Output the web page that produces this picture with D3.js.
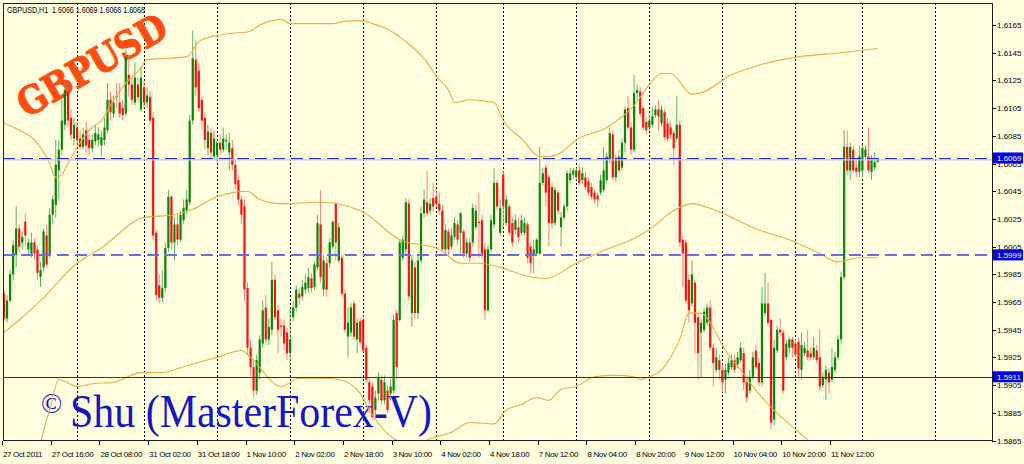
<!DOCTYPE html>
<html><head><meta charset="utf-8">
<script src="https://cdn.jsdelivr.net/npm/d3@7"></script>
<style>html,body{margin:0;padding:0;background:#FFFFE0;}svg{display:block}</style>
</head><body>
<svg id="c" width="1024" height="464"></svg>
<script>
// ---------------- DATA (GBPUSD H1, 27 Oct 2011 00:00 .. 14 Nov 2011 05:00) ----------------
const openP = [
// 27 Oct
1.5971,1.5953,1.5966,1.5985,1.5999,1.6018,1.6008,1.6023,1.6003,1.6000,1.6008,1.6003,1.5983,1.5990,1.6013,1.5999,1.6028,1.6035,1.6060,1.6075,1.6093,1.6117,1.6098,1.6083,
// 28 Oct
1.6091,1.6083,1.6077,1.6089,1.6082,1.6076,1.6081,1.6082,1.6078,1.6082,1.6089,1.6111,1.6101,1.6114,1.6109,1.6105,1.6101,1.6129,1.6122,1.6109,1.6122,1.6104,
// 31 Oct
1.6120,1.6109,1.6113,1.6098,1.6015,1.5977,1.5968,1.5975,1.6004,1.6041,1.6008,1.6021,1.6010,1.6024,1.6031,1.6037,1.6096,1.6140,1.6132,1.6111,1.6098,1.6076,1.6087,1.6070,
// 1 Nov
1.6071,1.6080,1.6075,1.6081,1.6073,1.6076,1.6064,1.6053,1.6039,1.6034,1.5975,1.5932,1.5918,1.5901,1.5914,1.5935,1.5961,1.5938,1.5945,1.5981,1.5959,1.5948,1.5948,1.5943,
// 2 Nov
1.5928,1.5954,1.5961,1.5971,1.5969,1.5974,1.5975,1.5982,1.5976,1.5990,1.6021,1.5974,1.5993,1.5993,1.6005,1.6036,1.5995,1.5997,1.5971,1.5940,1.5943,1.5964,1.5938,1.5951,
// 3 Nov
1.5952,1.5932,1.5907,1.5904,1.5887,1.5899,1.5909,1.5894,1.5901,1.5899,1.5901,1.5957,1.5952,1.5997,1.6003,1.6036,1.5957,1.5990,1.5957,1.5995,1.6029,1.6037,1.6031,1.6040,
// 4 Nov
1.6041,1.6036,1.6031,1.6003,1.6016,1.6005,1.6012,1.6021,1.6015,1.6016,1.6000,1.6008,1.6008,1.6019,1.6023,1.6024,1.6003,1.5959,1.6003,1.6021,1.6051,1.6015,
// 7 Nov
1.6057,1.6022,1.6034,1.6022,1.6017,1.6019,1.6015,1.6015,1.6021,1.6005,1.5999,1.6000,1.6000,1.6051,1.6062,1.6055,1.6048,1.6022,1.6044,1.6019,1.6026,1.6034,1.6053,1.6057,
// 8 Nov
1.6055,1.6060,1.6053,1.6055,1.6052,1.6048,1.6044,1.6042,1.6044,1.6046,1.6053,1.6068,1.6086,1.6055,1.6070,1.6062,1.6080,1.6105,1.6091,1.6075,1.6116,1.6117,1.6105,1.6095,
// 9 Nov
1.6091,1.6093,1.6100,1.6104,1.6094,1.6102,1.6094,1.6091,1.6087,1.6083,1.6093,1.6010,1.6008,1.5981,1.5964,1.5979,1.5954,1.5943,1.5945,1.5950,1.5961,1.5932,1.5916,1.5923,
// 10 Nov
1.5916,1.5909,1.5914,1.5918,1.5923,1.5920,1.5923,1.5928,1.5907,1.5901,1.5911,1.5930,1.5921,1.5907,1.5957,1.5964,1.5952,1.5880,1.5930,1.5945,1.5943,1.5925,1.5932,1.5938,
// 11 Nov
1.5935,1.5936,1.5916,1.5928,1.5930,1.5928,1.5925,1.5930,1.5925,1.5905,1.5909,1.5914,1.5909,1.5916,1.5925,1.5938,1.5983,1.6077,1.6060,1.6075,1.6062,1.6059,
// 14 Nov
1.6060,1.6070,1.6070,1.6059,1.6062,1.6066];
const highP = [
1.5974,1.5970,1.5988,1.6010,1.6034,1.6021,1.6016,1.6029,1.6011,1.6015,1.6011,1.6006,1.5994,1.6018,1.6021,1.6033,1.6042,1.6082,1.6082,1.6111,1.6123,1.6120,1.6104,1.6098,
1.6095,1.6089,1.6091,1.6095,1.6086,1.6086,1.6093,1.6091,1.6089,1.6098,1.6123,1.6117,1.6114,1.6123,1.6123,1.6111,1.6147,1.6143,1.6127,1.6138,1.6127,1.6135,
1.6125,1.6120,1.6117,1.6102,1.6017,1.5985,1.5988,1.6008,1.6046,1.6042,1.6026,1.6028,1.6031,1.6039,1.6046,1.6100,1.6161,1.6154,1.6138,1.6114,1.6102,1.6093,1.6091,1.6089,
1.6083,1.6086,1.6091,1.6086,1.6087,1.6082,1.6068,1.6057,1.6042,1.6039,1.5979,1.5938,1.5923,1.5927,1.5941,1.5966,1.5970,1.5953,1.5994,1.5985,1.5963,1.5953,1.5952,1.5946,
1.5961,1.5966,1.5977,1.5975,1.5981,1.5985,1.5990,1.5986,1.5994,1.6028,1.6046,1.5999,1.5997,1.6011,1.6024,1.6037,1.6022,1.5999,1.5974,1.5961,1.5964,1.5966,1.5953,1.5954,
1.5956,1.5934,1.5910,1.5907,1.5901,1.5914,1.5912,1.5912,1.5905,1.5909,1.5956,1.5959,1.6010,1.6013,1.6040,1.6039,1.5999,1.5994,1.5999,1.6034,1.6046,1.6060,1.6040,1.6051,
1.6046,1.6044,1.6035,1.6021,1.6018,1.6018,1.6026,1.6024,1.6030,1.6018,1.6011,1.6011,1.6036,1.6035,1.6044,1.6028,1.6008,1.6006,1.6028,1.6062,1.6053,1.6039,
1.6060,1.6042,1.6036,1.6026,1.6028,1.6026,1.6028,1.6026,1.6023,1.6008,1.6010,1.6011,1.6077,1.6062,1.6064,1.6057,1.6051,1.6048,1.6046,1.6030,1.6036,1.6060,1.6062,1.6062,
1.6062,1.6064,1.6062,1.6059,1.6055,1.6051,1.6046,1.6044,1.6057,1.6077,1.6073,1.6091,1.6089,1.6071,1.6075,1.6083,1.6106,1.6114,1.6095,1.6129,1.6122,1.6120,1.6107,1.6098,
1.6100,1.6106,1.6107,1.6111,1.6107,1.6104,1.6098,1.6095,1.6089,1.6114,1.6096,1.6013,1.6010,1.5985,1.5995,1.5981,1.5957,1.5953,1.5961,1.5964,1.5966,1.5935,1.5932,1.5927,
1.5920,1.5920,1.5925,1.5927,1.5927,1.5929,1.5936,1.5932,1.5910,1.5916,1.5929,1.5934,1.5925,1.5976,1.5986,1.5979,1.5953,1.5938,1.5948,1.5953,1.5945,1.5938,1.5940,1.5940,
1.5938,1.5939,1.5943,1.5936,1.5945,1.5932,1.5940,1.5934,1.5945,1.5914,1.5919,1.5917,1.5932,1.5929,1.5941,1.5987,1.6089,1.6089,1.6080,1.6078,1.6068,1.6078,
1.6078,1.6078,1.6091,1.6071,1.6073,1.6069];
const lowP = [
1.5951,1.5950,1.5965,1.5981,1.5990,1.6001,1.6003,1.6005,1.5998,1.5997,1.5995,1.5981,1.5976,1.5987,1.5990,1.5997,1.6021,1.6026,1.6039,1.6071,1.6089,1.6091,1.6082,1.6078,
1.6078,1.6075,1.6075,1.6073,1.6071,1.6073,1.6078,1.6077,1.6070,1.6078,1.6087,1.6096,1.6098,1.6105,1.6098,1.6096,1.6099,1.6113,1.6107,1.6107,1.6109,1.6102,
1.6105,1.6105,1.6093,1.6010,1.5966,1.5964,1.5965,1.5972,1.6001,1.6003,1.5995,1.6006,1.6008,1.6021,1.6028,1.6035,1.6093,1.6114,1.6102,1.6089,1.6075,1.6071,1.6069,1.6068,
1.6066,1.6071,1.6073,1.6075,1.6060,1.6060,1.6046,1.6035,1.6021,1.5966,1.5927,1.5912,1.5896,1.5898,1.5909,1.5932,1.5934,1.5934,1.5941,1.5952,1.5928,1.5940,1.5930,1.5923,
1.5914,1.5951,1.5958,1.5963,1.5966,1.5971,1.5972,1.5972,1.5974,1.5988,1.5979,1.5969,1.5969,1.5990,1.6003,1.5995,1.5993,1.5969,1.5943,1.5925,1.5940,1.5938,1.5928,1.5934,
1.5929,1.5907,1.5885,1.5880,1.5881,1.5894,1.5891,1.5891,1.5885,1.5894,1.5899,1.5909,1.5951,1.5995,1.5999,1.5966,1.5947,1.5953,1.5953,1.5993,1.6026,1.6027,1.6028,1.6030,
1.6034,1.6028,1.6001,1.5999,1.5999,1.6003,1.6010,1.6006,1.6000,1.5997,1.5997,1.5994,1.6005,1.6017,1.5997,1.5997,1.5952,1.5958,1.6001,1.6018,1.6031,1.6013,
1.6019,1.6020,1.6013,1.6005,1.6014,1.6008,1.6013,1.6013,1.5993,1.5986,1.5986,1.5998,1.5999,1.6049,1.6034,1.6005,1.6018,1.6020,1.6028,1.6005,1.6024,1.6031,1.6051,1.6054,
1.6053,1.6049,1.6050,1.6046,1.6042,1.6039,1.6036,1.6034,1.6042,1.6044,1.6051,1.6065,1.6053,1.6052,1.6058,1.6060,1.6073,1.6089,1.6071,1.6073,1.6111,1.6099,1.6089,1.6086,
1.6089,1.6091,1.6098,1.6089,1.6092,1.6082,1.6081,1.6083,1.6064,1.6080,1.6005,1.5976,1.5964,1.5950,1.5962,1.5928,1.5909,1.5911,1.5943,1.5948,1.5930,1.5904,1.5914,1.5909,
1.5900,1.5899,1.5912,1.5916,1.5914,1.5917,1.5921,1.5901,1.5892,1.5899,1.5909,1.5916,1.5904,1.5904,1.5955,1.5948,1.5873,1.5876,1.5928,1.5940,1.5899,1.5923,1.5928,1.5925,
1.5925,1.5911,1.5909,1.5926,1.5923,1.5923,1.5923,1.5921,1.5901,1.5903,1.5894,1.5899,1.5907,1.5914,1.5923,1.5935,1.5981,1.6057,1.6053,1.6058,1.6055,1.6055,
1.6055,1.6068,1.6058,1.6053,1.6060,1.6066];
const closeP = [
1.5953,1.5966,1.5985,1.6006,1.6018,1.6005,1.6012,1.6013,1.6008,1.6008,1.6000,1.5986,1.5988,1.6016,1.5992,1.6028,1.6039,1.6064,1.6075,1.6096,1.6118,1.6096,1.6086,1.6093,
1.6082,1.6077,1.6086,1.6078,1.6076,1.6082,1.6087,1.6086,1.6084,1.6091,1.6111,1.6102,1.6109,1.6113,1.6101,1.6100,1.6142,1.6122,1.6111,1.6127,1.6113,1.6127,
1.6109,1.6114,1.6096,1.6013,1.5970,1.5968,1.5975,1.6004,1.6041,1.6008,1.6021,1.6010,1.6028,1.6033,1.6039,1.6096,1.6141,1.6120,1.6105,1.6096,1.6082,1.6088,1.6073,1.6083,
1.6080,1.6075,1.6083,1.6082,1.6080,1.6064,1.6050,1.6039,1.6028,1.5974,1.5932,1.5918,1.5901,1.5923,1.5938,1.5959,1.5938,1.5947,1.5981,1.5954,1.5945,1.5947,1.5935,1.5928,
1.5938,1.5961,1.5974,1.5968,1.5976,1.5979,1.5983,1.5975,1.5992,1.6022,1.5983,1.5995,1.5974,1.6008,1.6023,1.6008,1.6019,1.5971,1.5945,1.5950,1.5961,1.5940,1.5950,1.5936,
1.5930,1.5909,1.5894,1.5882,1.5896,1.5911,1.5894,1.5907,1.5887,1.5904,1.5952,1.5918,1.6008,1.6010,1.6037,1.5969,1.5995,1.5957,1.5995,1.6029,1.6039,1.6029,1.6036,1.6034,
1.6036,1.6031,1.6003,1.6017,1.6003,1.6013,1.6022,1.6010,1.6029,1.6000,1.6008,1.5997,1.6033,1.6031,1.6022,1.6000,1.5959,1.6003,1.6024,1.6051,1.6034,1.6033,
1.6034,1.6039,1.6015,1.6008,1.6024,1.6012,1.6024,1.6022,1.5997,1.5993,1.6003,1.6010,1.6051,1.6058,1.6044,1.6022,1.6022,1.6046,1.6031,1.6026,1.6034,1.6058,1.6058,1.6060,
1.6060,1.6051,1.6058,1.6048,1.6044,1.6041,1.6039,1.6039,1.6053,1.6060,1.6070,1.6087,1.6055,1.6068,1.6060,1.6080,1.6104,1.6091,1.6075,1.6116,1.6118,1.6101,1.6091,1.6089,
1.6096,1.6099,1.6104,1.6099,1.6104,1.6084,1.6083,1.6086,1.6076,1.6093,1.6008,1.6000,1.5966,1.5959,1.5985,1.5950,1.5928,1.5950,1.5958,1.5961,1.5932,1.5921,1.5925,1.5916,
1.5907,1.5916,1.5921,1.5923,1.5916,1.5925,1.5932,1.5907,1.5896,1.5911,1.5925,1.5918,1.5907,1.5964,1.5964,1.5950,1.5878,1.5932,1.5945,1.5943,1.5901,1.5935,1.5938,1.5932,
1.5927,1.5917,1.5934,1.5932,1.5925,1.5925,1.5932,1.5923,1.5904,1.5911,1.5916,1.5907,1.5918,1.5925,1.5938,1.5983,1.6077,1.6060,1.6077,1.6060,1.6059,1.6070,
1.6076,1.6075,1.6060,1.6068,1.6066,1.6068];

// Bollinger bands: [bar index] and value
const upperIdx = [0,5,10,15,17,19,21,25,29,32,35,40,45,47,54,60,64,69,75,80,85,91,94,101,108,113,118,121,126,132,139,142,146,148,153,161,164,170,176,179,183,188,198,207,212,216,219,226,229,239,248,261,275,287];
const upperVal = [1.6094,1.6089,1.6082,1.6065,1.6055,1.6057,1.6065,1.6080,1.6091,1.6096,1.6107,1.6123,1.6134,1.6140,1.6141,1.6142,1.6153,1.6157,1.6159,1.6160,1.6166,1.6169,1.6166,1.6166,1.6166,1.6168,1.6168,1.6166,1.6162,1.6153,1.6138,1.6128,1.6118,1.6109,1.6111,1.6109,1.6096,1.6083,1.6070,1.6070,1.6073,1.6082,1.6091,1.6107,1.6122,1.6130,1.6130,1.6115,1.6116,1.6129,1.6136,1.6142,1.6145,1.6148];
const middleIdx = [0,5,12,24,32,46,56,61,70,75,80,84,91,104,117,130,143,150,156,163,173,178,188,198,208,213,220,226,235,248,258,268,274,281,287];
const middleVal = [1.5943,1.5952,1.5966,1.5993,1.6004,1.6026,1.6028,1.6031,1.6041,1.6044,1.6045,1.6039,1.6036,1.6037,1.6031,1.6010,1.6003,1.5993,1.5993,1.5990,1.5983,1.5982,1.5993,1.6003,1.6012,1.6019,1.6031,1.6036,1.6030,1.6017,1.6010,1.6000,1.5994,1.5997,1.5997];
const lowerIdx = [0,11,12,15,18,24,29,36,45,52,60,70,78,81,91,97,104,110,117,120,126,134,141,147,153,161,165,170,175,179,183,188,194,201,207,209,212,216,219,222,225,229,232,237,242,245,252,259,267,278,287];
const lowerVal = [1.5792,1.5848,1.5862,1.5887,1.5909,1.5904,1.5906,1.5907,1.5914,1.5914,1.5919,1.5925,1.5930,1.5925,1.5904,1.5910,1.5910,1.5909,1.5899,1.5887,1.5870,1.5862,1.5867,1.5871,1.5878,1.5877,1.5887,1.5891,1.5896,1.5894,1.5902,1.5904,1.5911,1.5912,1.5911,1.5909,1.5911,1.5916,1.5925,1.5938,1.5957,1.5957,1.5950,1.5930,1.5916,1.5907,1.5889,1.5875,1.5860,1.5836,1.5822];

const priceTicks = [1.6165,1.6145,1.6125,1.6105,1.6085,1.6065,1.6045,1.6025,1.6005,1.5985,1.5965,1.5945,1.5925,1.5905,1.5885,1.5865];
const timeLabels = ["27 Oct 2011","27 Oct 16:00","28 Oct 08:00","31 Oct 02:00","31 Oct 18:00","1 Nov 10:00","2 Nov 02:00","2 Nov 18:00","3 Nov 10:00","4 Nov 02:00","4 Nov 18:00","7 Nov 12:00","8 Nov 04:00","8 Nov 20:00","9 Nov 12:00","10 Nov 04:00","10 Nov 20:00","11 Nov 12:00"];
const timeLabelIdx = [0,16,32,48,64,80,96,112,128,144,160,176,192,208,224,240,256,272];
const daySeparators = [24,46,70,94,118,142,164,188,212,236,260,282,306];
const levelDashUpper = 1.6069, levelDashLower = 1.5999, levelSolid = 1.5911, bidLevel = 1.6068;

// ---------------- DRAW ----------------
const W = 1024, H = 464, PL = 3, PT = 3, PR = 992, PB = 440;
const svg = d3.select("#c");
svg.append("rect").attr("width", W).attr("height", H).attr("fill", "#FFFFE0");
const x = d3.scaleLinear().domain([0, 288]).range([4, 4 + 288 * 3.044]);
const y = d3.scaleLinear().domain([1.5865, 1.6165]).range([440.5, 25]);

svg.append("defs").append("clipPath").attr("id", "plot")
  .append("rect").attr("x", PL).attr("y", PT).attr("width", PR - PL).attr("height", PB - PT);
const g = svg.append("g").attr("clip-path", "url(#plot)");

// day separators
g.selectAll("line.sep").data(daySeparators).join("line")
  .attr("x1", d => Math.round(x(d)) + 0.5).attr("x2", d => Math.round(x(d)) + 0.5)
  .attr("y1", PT).attr("y2", PB)
  .attr("stroke", "#000").attr("stroke-width", 1).attr("stroke-dasharray", "2,2");

// background text objects (drawn inside the frame, not clipped)
svg.append("text").text("GBPUSD")
  .attr("transform", "translate(92,65) rotate(-30)")
  .attr("text-anchor", "middle").attr("dominant-baseline", "central")
  .attr("font-family", "DejaVu Serif").attr("font-weight", "bold").attr("font-size", 38)
  .attr("textLength", 166).attr("lengthAdjust", "spacingAndGlyphs")
  .attr("fill", "#FF4D12").attr("stroke", "#FF4D12").attr("stroke-width", 1.2);
svg.append("text").text("©").attr("x", 41).attr("y", 413)
  .attr("font-family", "Liberation Serif").attr("font-size", 28).attr("fill", "#1515C8");
svg.append("text").text("Shu (MasterForex-V)").attr("x", 70).attr("y", 427)
  .attr("font-family", "Liberation Serif").attr("font-size", 46)
  .attr("textLength", 362).attr("lengthAdjust", "spacingAndGlyphs").attr("fill", "#1515C8");

const g2 = svg.append("g").attr("clip-path", "url(#plot)");

// candles
const bars = openP.map((o, i) => ({ i, o, h: highP[i], l: lowP[i], c: closeP[i] }));
const bull = d => d.c > d.o, bear = d => d.c < d.o;
g2.selectAll("line.wick").data(bars).join("line")
  .attr("x1", d => x(d.i)).attr("x2", d => x(d.i))
  .attr("y1", d => y(d.h)).attr("y2", d => y(d.l))
  .attr("stroke", d => bull(d) ? "#62B062" : bear(d) ? "#FF8080" : "#A8A8A8").attr("stroke-width", 1);
g2.selectAll("rect.body").data(bars).join("rect")
  .attr("x", d => x(d.i) - 1.1).attr("width", 2.2)
  .attr("y", d => y(Math.max(d.o, d.c)))
  .attr("height", d => Math.max(1, Math.abs(y(d.o) - y(d.c))))
  .attr("fill", d => bull(d) ? "#0A850A" : bear(d) ? "#FF1010" : "#909090");

// Bollinger bands
const bandLine = d3.line().x(d => x(d[0])).y(d => y(d[1])).curve(d3.curveMonotoneX);
[[upperIdx, upperVal], [middleIdx, middleVal], [lowerIdx, lowerVal]].forEach(([ix, v]) => {
  g2.append("path").attr("d", bandLine(ix.map((k, j) => [k, v[j]])))
    .attr("fill", "none").attr("stroke", "#E4AE48").attr("stroke-width", 1.1);
});

// horizontal levels
g2.append("line").attr("x1", PL).attr("x2", PR).attr("y1", y(bidLevel) + 0.5).attr("y2", y(bidLevel) + 0.5)
  .attr("stroke", "#C8C8C8").attr("stroke-width", 1.2);
g2.append("line").attr("x1", PL).attr("x2", PR).attr("y1", Math.round(y(levelDashUpper)) + 0.5).attr("y2", Math.round(y(levelDashUpper)) + 0.5)
  .attr("stroke", "#2424F2").attr("stroke-width", 1).attr("stroke-dasharray", "12,6");
g2.append("line").attr("x1", PL).attr("x2", PR).attr("y1", y(levelDashLower)).attr("y2", y(levelDashLower))
  .attr("stroke", "#6C6CF2").attr("stroke-width", 2).attr("stroke-dasharray", "12,6");
g2.append("line").attr("x1", PL).attr("x2", PR).attr("y1", Math.round(y(levelSolid)) + 0.5).attr("y2", Math.round(y(levelSolid)) + 0.5)
  .attr("stroke", "#2424B8").attr("stroke-width", 1);

// frame
svg.append("rect").attr("x", PL + 0.5).attr("y", PT + 0.5).attr("width", PR - PL).attr("height", PB - PT)
  .attr("fill", "none").attr("stroke", "#202020").attr("stroke-width", 1);

// price axis
const ax = svg.append("g");
ax.selectAll("line").data(priceTicks).join("line")
  .attr("x1", PR).attr("x2", PR + 4).attr("y1", d => Math.round(y(d)) + 0.5).attr("y2", d => Math.round(y(d)) + 0.5)
  .attr("stroke", "#000");
ax.selectAll("text").data(priceTicks).join("text")
  .attr("x", PR + 5).attr("y", d => y(d) + 3)
  .attr("font-family", "Liberation Sans").attr("font-size", 8).attr("fill", "#000")
  .text(d => d.toFixed(4));

// level boxes on the price axis
[levelDashUpper, levelDashLower, levelSolid].forEach(v => {
  ax.append("rect").attr("x", PR + 1).attr("y", y(v) - 5.5).attr("width", 30).attr("height", 11).attr("fill", "#0000F0");
  ax.append("text").attr("x", PR + 5).attr("y", y(v) + 3).attr("font-family", "Liberation Sans")
    .attr("font-size", 8).attr("fill", "#fff").text(v.toFixed(4));
});

// time axis
const tx = svg.append("g");
tx.selectAll("line").data(timeLabelIdx).join("line")
  .attr("x1", d => Math.round(x(d)) - 1.5).attr("x2", d => Math.round(x(d)) - 1.5)
  .attr("y1", PB + 1).attr("y2", PB + 5).attr("stroke", "#000");
tx.selectAll("text").data(timeLabels).join("text")
  .attr("x", (d, k) => x(timeLabelIdx[k]) - 1).attr("y", 457)
  .attr("font-family", "Liberation Sans").attr("font-size", 8).attr("letter-spacing", -0.35).attr("fill", "#000")
  .text(d => d);

// header
const last = bars[bars.length - 1];
svg.append("text").attr("x", 7).attr("y", 13)
  .attr("font-family", "Liberation Sans").attr("font-size", 8.5).attr("fill", "#000")
  .attr("textLength", 138).attr("lengthAdjust", "spacingAndGlyphs")
  .attr("xml:space", "preserve")
  .text(`GBPUSD,H1  ${last.o.toFixed(4)} ${last.h.toFixed(4)} ${last.l.toFixed(4)} ${last.c.toFixed(4)}`);
</script>
</body></html>
